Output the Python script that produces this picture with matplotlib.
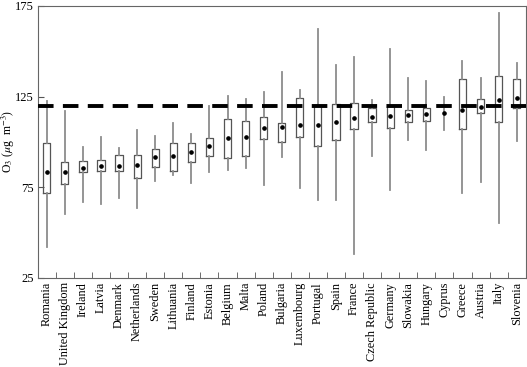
import numpy as np
import matplotlib.pyplot as plt

plt.rcParams['font.family'] = ['Liberation Serif', 'DejaVu Serif']
plt.rcParams['mathtext.fontset'] = 'stix'

# paises ordenados por la media
paises = ['Romania', 'United Kingdom', 'Ireland', 'Latvia', 'Denmark', 'Netherlands',
          'Sweden', 'Lithuania', 'Finland', 'Estonia', 'Belgium', 'Malta', 'Poland',
          'Bulgaria', 'Luxembourg', 'Portugal', 'Spain', 'France', 'Czech Republic',
          'Germany', 'Slowakia', 'Hungary', 'Cyprus', 'Greece', 'Austria', 'Italy',
          'Slovenia']

# valores (ug m-3)
w_max = [122.3, 117.0, 97.4, 102.6, 96.5, 106.3, 103.4, 110.3, 104.3, 119.5, 125.5, 123.7, 127.5,
         138.6, 128.8, 162.3, 142.6, 146.8, 123.2, 151.2, 135.5, 133.4, 125.0, 144.6, 135.4, 171.0,
         143.7]
q3 = [99.4, 88.8, 89.4, 89.7, 92.8, 92.8, 96.3, 99.4, 99.4, 102.3, 112.5, 111.7, 113.7,
      110.3, 124.3, 120.3, 120.8, 121.5, 118.6, 120.0, 117.4, 118.5, 120.5, 134.5, 123.5, 136.3,
      134.8]
media = [83.6, 83.6, 85.6, 86.5, 86.5, 87.2, 91.7, 92.1, 94.3, 97.9, 101.9, 102.8, 107.9,
         108.3, 109.4, 109.2, 111.0, 113.4, 113.7, 114.3, 115.0, 115.4, 115.9, 117.4, 119.0, 123.2,
         124.1]
q1 = [71.6, 76.5, 83.4, 83.9, 83.9, 80.3, 86.3, 83.9, 88.8, 92.1, 90.8, 92.1, 101.6,
      99.7, 102.6, 97.7, 101.0, 107.2, 110.8, 107.9, 110.8, 111.4, 119.5, 107.2, 115.9, 110.8,
      118.6]
w_min = [41.9, 60.1, 67.0, 65.6, 68.8, 63.4, 78.6, 81.7, 77.0, 83.6, 84.5, 85.7, 75.9,
         91.4, 74.6, 67.7, 67.7, 37.9, 92.1, 73.4, 101.2, 95.4, 106.8, 71.6, 77.7, 55.4,
         100.5]
valor_objetivo = 120

stats = []
for i in range(len(paises)):
    stats.append({'label': paises[i], 'whislo': w_min[i], 'q1': q1[i], 'med': media[i],
                  'q3': q3[i], 'whishi': w_max[i], 'mean': media[i]})

fig = plt.figure(figsize=(5.27, 3.67), dpi=100)
ax = fig.add_axes([0.0716, 0.2433, 0.926, 0.7405])

pos = np.arange(1, len(paises) + 1)
ax.bxp(stats, positions=pos, widths=0.4, showmeans=True, showcaps=False, showfliers=False,
       boxprops=dict(color='#555555', linewidth=0.9),
       whiskerprops=dict(color='#8c8c8c', linewidth=1.3),
       medianprops=dict(linewidth=0),
       meanprops=dict(marker='o', markersize=2.3, markerfacecolor='black',
                      markeredgecolor='black'))

ax.axhline(valor_objetivo, color='black', linewidth=2.8, linestyle=(0, (4, 2.4)), zorder=5)

ax.set_xlim(0.5, len(paises) + 0.5)
ax.set_ylim(25, 175)
ax.set_yticks([25, 75, 125, 175])
ax.set_xticks(pos)
ax.set_xticklabels(paises, rotation=90, fontsize=8.8)
ax.set_xticks(pos[:-1] + 0.5, minor=True)
ax.tick_params(axis='x', which='major', length=0, pad=3)
ax.tick_params(axis='x', which='minor', direction='in', length=4, color='#555555')
ax.tick_params(axis='y', direction='in', length=4, color='#555555', labelsize=9, pad=3)
for s in ax.spines.values():
    s.set_color('#666666')
ax.set_ylabel(r'O$_3$ ($\mu$g  m$^{-3}$)', fontsize=8.5)
ax.yaxis.set_label_coords(-0.042, 0.5)

fig.savefig('out.png', dpi=100)
